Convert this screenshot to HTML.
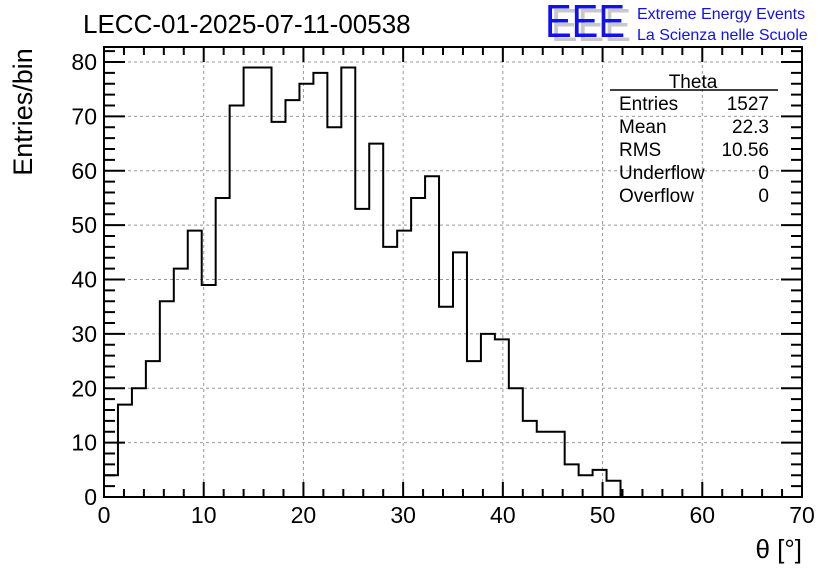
<!DOCTYPE html>
<html><head><meta charset="utf-8"><style>
body{margin:0;background:#fff;}
svg text{font-family:"Liberation Sans",sans-serif;}
</style></head><body>
<svg id="c" width="836" height="572" xmlns="http://www.w3.org/2000/svg">
<rect width="836" height="572" fill="#fff"/>
<text x="83" y="33" font-size="26">LECC-01-2025-07-11-00538</text>
<g>
<text x="551" y="41" font-size="46" fill="#c8c8c8" textLength="80" lengthAdjust="spacingAndGlyphs">EEE</text>
<text x="545" y="37" font-size="46" fill="#1010f0" textLength="80" lengthAdjust="spacingAndGlyphs">EEE</text>
<text x="637" y="19" font-size="16" fill="#1010f0">Extreme Energy Events</text>
<text x="637" y="40" font-size="16" fill="#1010f0">La Scienza nelle Scuole</text>
</g>
<g id="grid"></g>
<g id="axes"></g>
<path id="hist" fill="none" stroke="#000" stroke-width="2"/>
<rect x="104" y="47" width="698" height="450" fill="none" stroke="#000" stroke-width="2"/>
<g font-size="19">
<text x="693" y="88" text-anchor="middle">Theta</text>
<line x1="610" y1="90" x2="778" y2="90" stroke="#000" stroke-width="1.5"/>
<text x="619" y="110">Entries</text><text x="769" y="110" text-anchor="end">1527</text>
<text x="619" y="133">Mean</text><text x="769" y="133" text-anchor="end">22.3</text>
<text x="619" y="156">RMS</text><text x="769" y="156" text-anchor="end">10.56</text>
<text x="619" y="179">Underflow</text><text x="769" y="179" text-anchor="end">0</text>
<text x="619" y="202">Overflow</text><text x="769" y="202" text-anchor="end">0</text>
</g>
<text transform="translate(32,112) rotate(-90)" font-size="27" text-anchor="middle">Entries/bin</text>
<text x="802" y="558" font-size="26" text-anchor="end">θ [°]</text>
</svg>
<script>
const counts=[4,17,20,25,36,42,49,39,55,72,79,79,69,73,76,78,68,79,53,65,46,49,55,59,35,45,25,30,29,20,14,12,12,6,4,5,3,0,0,0,0,0,0,0,0,0,0,0,0,0];
const binWidth=1.4;
const xTicks=[0,10,20,30,40,50,60,70];
const yTicks=[0,10,20,30,40,50,60,70,80];
const X0=104,X1=802,Y0=497,Y80=62;
const sx=v=>X0+(X1-X0)*v/70;
const sy=v=>Y0-(Y0-Y80)*v/80;
const NS="http://www.w3.org/2000/svg";
const grid=document.getElementById('grid'),axes=document.getElementById('axes');
function mk(tag,attrs,parent){const e=document.createElementNS(NS,tag);for(const k in attrs)e.setAttribute(k,attrs[k]);parent.appendChild(e);return e;}
xTicks.forEach(t=>{
  const x=sx(t);
  if(t>0&&t<70){const g=mk('line',{x1:x,x2:x,y1:47,y2:497,stroke:'#999','stroke-dasharray':'3,3','stroke-width':1},grid);
  
  }
  const l=mk('text',{x:x,y:523,'font-size':23,'text-anchor':'middle'},axes);l.textContent=t;
  
  
});
for(let v=0;v<=70;v+=2){const x=sx(v);const len=v%10===0?15:8;
  mk('line',{x1:x,x2:x,y1:497,y2:497-len,stroke:'#000','stroke-width':2},axes);
  mk('line',{x1:x,x2:x,y1:47,y2:47+len,stroke:'#000','stroke-width':2},axes);}
yTicks.forEach(t=>{
  const y=sy(t);
  if(t>0){const g=mk('line',{x1:104,x2:802,y1:y,y2:y,stroke:'#999','stroke-dasharray':'3,3','stroke-width':1},grid);
  
  }
  const l=mk('text',{x:97,y:y+8,'font-size':23,'text-anchor':'end'},axes);l.textContent=t;
  
  
});
for(let v=0;sy(v)>=47;v+=2){const y=sy(v);const len=v%10===0?21:11;
  mk('line',{x1:104,x2:104+len,y1:y,y2:y,stroke:'#000','stroke-width':2},axes);
  mk('line',{x1:802,x2:802-len,y1:y,y2:y,stroke:'#000','stroke-width':2},axes);}
let last=counts.length-1;while(last>0&&counts[last]===0)last--;
let d='M'+sx(0)+','+sy(0);
for(let i=0;i<=last;i++){d+=' L'+sx(i*binWidth)+','+sy(counts[i])+' L'+sx((i+1)*binWidth)+','+sy(counts[i]);}
d+=' L'+sx((last+1)*binWidth)+','+sy(0);
document.getElementById('hist').setAttribute('d',d);
</script>
</body></html>
